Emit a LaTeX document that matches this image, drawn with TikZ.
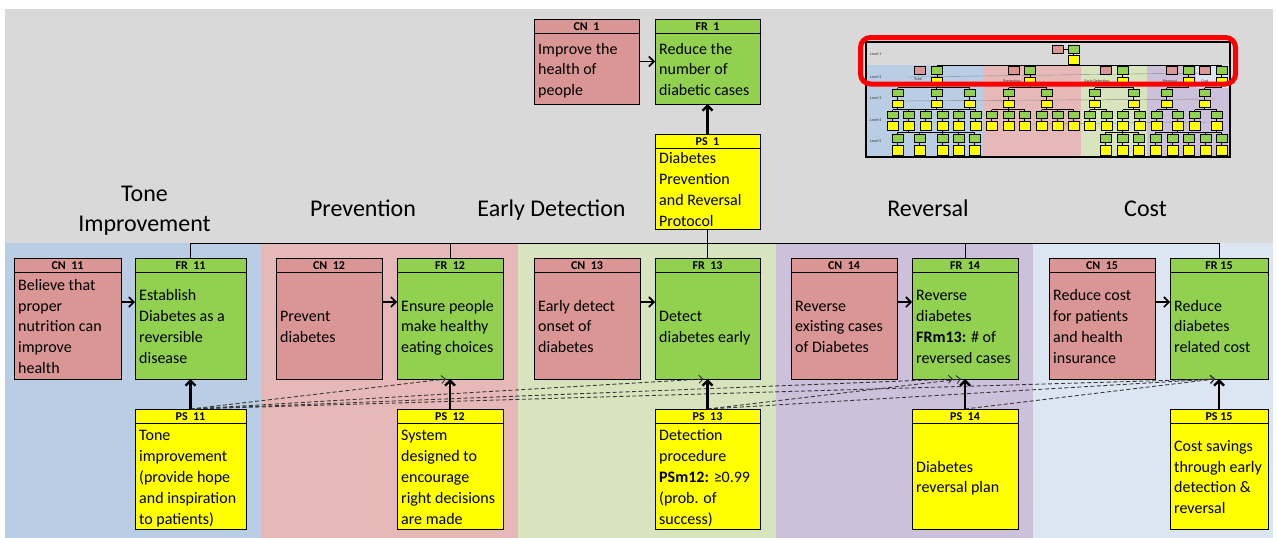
\documentclass[tikz,border=0pt]{standalone}
\usepackage{fontspec}
\setmainfont{Carlito}
\usetikzlibrary{arrows.meta,calc}

\definecolor{bggray}{RGB}{217,217,217}
\definecolor{bandA}{RGB}{185,205,229}
\definecolor{bandB}{RGB}{230,185,184}
\definecolor{bandC}{RGB}{215,228,189}
\definecolor{bandD}{RGB}{204,192,218}
\definecolor{bandE}{RGB}{220,230,242}
\definecolor{cnfill}{RGB}{217,150,148}
\definecolor{frfill}{RGB}{146,208,80}
\definecolor{psfill}{RGB}{255,255,0}
\definecolor{dashgray}{RGB}{55,55,55}

% strut giving every body line the same 20.8pt box
\newcommand\sv{\vrule height 16.6pt depth 4.2pt width 0pt}

% box with a title strip: name, left, top, width, height, fill, title, body
\newcommand\qbox[8]{%
  \node[qb, fill=#6, minimum width=#4pt, minimum height=#5pt] (#1) at (#2,#3) {};
  \draw[qline] ([yshift=-14.5pt]#1.north west) -- ([yshift=-14.5pt]#1.north east);
  \node[qhead] (#1h) at ([yshift=-7.25pt]#1.north) {#7};
  \node[qbody] (#1b) at ([xshift=4pt,yshift=-7.25pt]#1.west) {\sv #8\sv};
}

% tiny box of the overview sketch: left, top, height, fill
\newcommand\tb[4]{\filldraw[tbox, fill=#4] (#1,#2) rectangle ++(11,#3);}

\tikzset{
  qb/.style={draw=black, line width=0.9pt, rectangle, inner sep=0pt, outer sep=0pt, anchor=north west},
  qline/.style={draw=black, line width=0.9pt},
  qhead/.style={font=\fontsize{12pt}{12pt}\selectfont\bfseries, inner sep=0pt},
  qbody/.style={font=\fontsize{16pt}{20.8pt}\selectfont, inner sep=0pt, align=left, anchor=west},
  sectitle/.style={font=\fontsize{24pt}{28pt}\selectfont, inner sep=0pt, anchor=base},
  harrow/.style={-{Straight Barb[length=5pt,width=10pt]}, line width=1.6pt},
  varrow/.style={-{Straight Barb[length=5pt,width=10pt]}, line width=2.4pt},
  darrow/.style={-{Straight Barb[length=4pt,width=8pt]}, draw=dashgray, dash pattern=on 4pt off 2.5pt, line width=0.9pt},
  tline/.style={draw=black, line width=1pt},
  tbox/.style={draw=black, line width=1pt},
  tlink/.style={draw=black, line width=0.7pt},
  tlabel/.style={font=\fontsize{4pt}{4.5pt}\selectfont, inner sep=0pt, text=black!80},
}

\begin{document}
\begin{tikzpicture}[x=1pt,y=-1pt]
\useasboundingbox (0,0) rectangle (1277,538);

% backdrop and section bands
\fill[bggray] (5,9) rectangle (1273,538);
\fill[bandA] (5,243) rectangle (261,538);
\fill[bandB] (261,243) rectangle (518,538);
\fill[bandC] (518,243) rectangle (776,538);
\fill[bandD] (776,243) rectangle (1033,538);
\fill[bandE] (1033,243) rectangle (1273,538);

% ---------- overview sketch (top right) ----------
\fill[bggray] (866,42) rectangle (1230,157);
\fill[bandA] (866,65) rectangle (983,157);
\fill[bandB] (983,65) rectangle (1081,157);
\fill[bandC] (1081,65) rectangle (1147,157);
\fill[bandD] (1147,65) rectangle (1230,157);
\fill[bandE] (1196,65) rectangle (1230,88);

% faint cross links
\draw[black!45, line width=0.4pt] (908,77) -- (1205,73);
\draw[black!45, line width=0.4pt] (902,101) -- (1215,99);
\draw[black!45, line width=0.4pt] (1030,124) -- (1210,122);

% sketch tree lines
\draw[tlink] (1063,49) -- (1068,49);
\draw[tlink] (1073,53) -- (1073,55);
\draw[tlink] (1073,64) -- (1073,65.5);
\draw[tlink] (937,65.5) -- (1222,65.5);
\foreach \c in {937,1030,1122.5,1188.5,1221.5} \draw[tlink] (\c,65.5) -- (\c,77);
% level 3 bars
\draw[tlink] (897.5,87.5) -- (969.5,87.5);
\draw[tlink] (1008.5,87.5) -- (1046.5,87.5);
\draw[tlink] (1094.5,87.5) -- (1133.5,87.5);
\draw[tlink] (1166.5,87.5) -- (1188.5,87.5);
\draw[tlink] (1204.5,87.5) -- (1221.5,87.5);
\foreach \c in {897.5,936.5,969.5,1008.5,1046.5,1094.5,1133.5,1166.5,1204.5} \draw[tlink] (\c,87.5) -- (\c,100);
\foreach \c in {937,1030,1122.5,1188.5,1221.5} \draw[tlink] (\c,85) -- (\c,87.5);
% level 4 bars
\draw[tlink] (892.5,109.5) -- (975.5,109.5);
\draw[tlink] (991.5,109.5) -- (1024.5,109.5);
\draw[tlink] (1041.5,109.5) -- (1073.5,109.5);
\draw[tlink] (1089.5,109.5) -- (1106.5,109.5);
\draw[tlink] (1122.5,109.5) -- (1139.5,109.5);
\draw[tlink] (1156.5,109.5) -- (1177.5,109.5);
\draw[tlink] (1194.5,109.5) -- (1216.5,109.5);
\foreach \c in {897.5,936.5,969.5,1008.5,1046.5,1094.5,1133.5,1166.5,1204.5} \draw[tlink] (\c,107) -- (\c,109.5);
\foreach \c in {892.5,908.5,925.5,942.5,958.5,975.5,991.5,1008.5,1024.5,1041.5,1057.5,1073.5,1089.5,1106.5,1122.5,1139.5,1156.5,1177.5,1194.5,1216.5} \draw[tlink] (\c,109.5) -- (\c,121);
% level 5 bars
\draw[tlink] (897.5,132) -- (974.5,132);
\draw[tlink] (1105.5,132) -- (1138.5,132);
\draw[tlink] (1155.5,132) -- (1221.5,132);
\foreach \c in {908.5,942.5,1122.5,1177.5,1216.5} \draw[tlink] (\c,130) -- (\c,132);
\foreach \c in {897.5,919.5,942.5,958.5,974.5,1105.5,1122.5,1138.5,1155.5,1172.5,1188.5,1205.5,1221.5} \draw[tlink] (\c,132) -- (\c,145);

% sketch boxes
\tb{1052}{45}{8}{cnfill}
\tb{1068}{45}{8}{frfill}
\tb{1068}{55}{9}{psfill}
\foreach \x in {914,1008,1100,1166,1199} \tb{\x}{66}{8}{cnfill};
\foreach \x in {931,1024,1117,1183,1216} {\tb{\x}{66}{8}{frfill} \tb{\x}{77}{8}{psfill}}
\foreach \x in {892,931,964,1003,1041,1089,1128,1161,1199} {\tb{\x}{89}{7}{frfill} \tb{\x}{100}{7}{psfill}}
\foreach \x in {887,903,920,937,953,970,986,1003,1019,1036,1052,1068,1084,1101,1117,1134,1151,1172,1189,1211} {\tb{\x}{111}{7}{frfill} \tb{\x}{121}{9}{psfill}}
\foreach \x in {892,914,937,953,969,1100,1117,1133,1150,1167,1183,1200,1216} {\tb{\x}{134}{8}{frfill} \tb{\x}{145}{10}{psfill}}

% sketch labels
\node[tlabel, anchor=west] (lv1) at (870,54) {Level 1};
\node[tlabel, anchor=west] (lv2) at (870,77) {Level 2};
\node[tlabel, anchor=west] (lv3) at (870,98) {Level 3};
\node[tlabel, anchor=west] (lv4) at (870,120) {Level 4};
\node[tlabel, anchor=west] (lv5) at (870,141) {Level 5};
\node[tlabel] (sk1) at (918,79) {Tone};
\node[tlabel] (sk1b) at (919,85) {Improvement};
\node[tlabel] (sk2) at (1012,81) {Prevention};
\node[tlabel] (sk3) at (1097,81) {Early Detection};
\node[tlabel] (sk4) at (1170,81) {Reversal};
\node[tlabel] (sk5) at (1205,81) {Cost};

\draw[black, line width=2pt] (866,42) rectangle (1230,157);
\draw[red, line width=5pt, rounded corners=10pt] (860.5,37.5) rectangle (1235.5,84);

% ---------- section titles ----------
\node[sectitle] (tTone) at (144.5,201.5) {Tone};
\node[sectitle] (tImp) at (144.5,231) {Improvement};
\node[sectitle] (tPrev) at (363,216) {Prevention};
\node[sectitle] (tEarly) at (551.5,216) {Early Detection};
\node[sectitle] (tRev) at (928,216) {Reversal};
\node[sectitle] (tCost) at (1145.5,216) {Cost};

% ---------- level 1 ----------
\qbox{cn1}{534}{19}{105}{85}{cnfill}{CN~~1}{Improve the\\health of\\people}
\qbox{fr1}{655}{19}{105}{85}{frfill}{FR~~1}{Reduce the\\number of\\diabetic cases}
\qbox{ps1}{655}{134}{105}{95}{psfill}{PS~~1}{Diabetes\\Prevention\\and Reversal\\Protocol}

% ---------- level 2 ----------
\qbox{cn11}{14}{258}{107}{121}{cnfill}{CN~~11}{Believe that\\proper\\nutrition can\\improve\\health}
\qbox{fr11}{135}{258}{111}{121}{frfill}{FR~~11}{Establish\\Diabetes as a\\reversible\\disease}
\qbox{ps11}{135}{409}{111}{120}{psfill}{PS~~11}{Tone\\improvement\\(provide hope\\and inspiration\\to patients)}

\qbox{cn12}{276}{258}{106}{121}{cnfill}{CN~~12}{Prevent\\diabetes}
\qbox{fr12}{397}{258}{106}{121}{frfill}{FR~~12}{Ensure people\\make healthy\\eating choices}
\qbox{ps12}{397}{409}{106}{120}{psfill}{PS~~12}{System\\designed to\\encourage\\right decisions\\are made}

\qbox{cn13}{534}{258}{106}{121}{cnfill}{CN~~13}{Early detect\\onset of\\diabetes}
\qbox{fr13}{655}{258}{105}{121}{frfill}{FR~~13}{Detect\\diabetes early}
\qbox{ps13}{655}{409}{105}{120}{psfill}{PS~~13}{Detection\\procedure\\\textbf{PSm12:} ≥0.99\\(prob. of\\success)}

\qbox{cn14}{791}{258}{106}{121}{cnfill}{CN~~14}{Reverse\\existing cases\\of Diabetes}
\qbox{fr14}{912}{258}{106}{121}{frfill}{FR~~14}{Reverse\\diabetes\\\textbf{FRm13:} \# of\\reversed cases}
\qbox{ps14}{912}{409}{106}{120}{psfill}{PS~~14}{Diabetes\\reversal plan}

\qbox{cn15}{1049}{258}{106}{121}{cnfill}{CN~~15}{Reduce cost\\for patients\\and health\\insurance}
\qbox{fr15}{1170}{258}{98}{121}{frfill}{FR 15}{Reduce\\diabetes\\related cost}
\qbox{ps15}{1170}{409}{98}{120}{psfill}{PS 15}{Cost savings\\through early\\detection \&\\reversal}

% ---------- tree links ----------
\draw[tline] (ps1.south) -- (fr13.north);
\draw[tline] (fr11.north) -- ++(0,-14.5) -| (fr15.north);
\draw[tline] (fr12.north) -- ++(0,-14.5);
\draw[tline] (fr14.north) -- ++(0,-14.5);

% ---------- cross links between solutions and requirements ----------
\draw[darrow] (ps11.north) -- ([xshift=-4pt]fr12.south);
\draw[darrow] (ps11.north) -- ([xshift=-4pt]fr13.south);
\draw[darrow] (ps11.north) -- ([xshift=-12pt]fr14.south);
\draw[darrow] (ps11.north) -- ([xshift=-4pt]fr15.south);
\draw[darrow] (ps13.north) -- ([xshift=-4pt]fr14.south);
\draw[darrow] (ps13.north) -- ([xshift=-4pt]fr15.south);
\draw[darrow] (ps14.north) -- ([xshift=-4pt]fr15.south);

% ---------- need -> requirement ----------
\draw[harrow] (cn1.east) -- (fr1.west);
\foreach \i in {11,12,13,14,15}
  \draw[harrow] ([yshift=16.5pt]cn\i.east) -- ([yshift=16.5pt]fr\i.west);

% ---------- solution -> requirement ----------
\draw[varrow] (ps1.north) -- (fr1.south);
\foreach \i in {11,12,13,14,15}
  \draw[varrow] (ps\i.north) -- (fr\i.south);

\end{tikzpicture}
\end{document}
